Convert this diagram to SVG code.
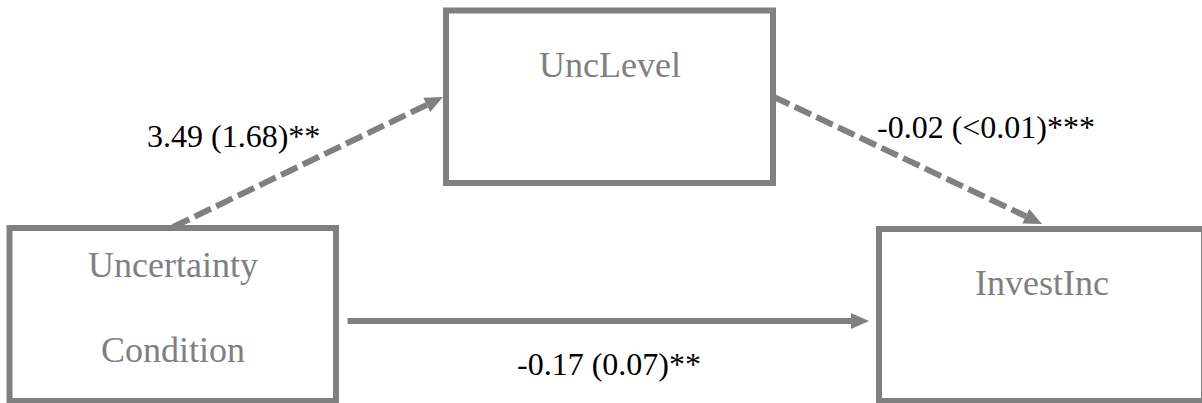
<svg xmlns="http://www.w3.org/2000/svg" width="1202" height="403" viewBox="0 0 1202 403">
  <style>
    .box { fill: #ffffff; stroke: #808080; stroke-width: 6; }
    .node-text { font-family: "Liberation Serif", "Times New Roman", serif; font-size: 36px; fill: #808080; text-anchor: middle; }
    .label { font-family: "Liberation Serif", "Times New Roman", serif; font-size: 32px; fill: #000000; }
    .edge { fill: none; stroke: #808080; stroke-width: 6; }
    .dashed { stroke-dasharray: 18 6; }
  </style>
  <defs>
    <marker id="head" markerUnits="userSpaceOnUse" markerWidth="18" markerHeight="16" refX="0" refY="8" orient="auto" overflow="visible">
      <path d="M0,0 L18,8 L0,16 Z" fill="#808080"/>
    </marker>
  </defs>
  <rect width="1202" height="403" fill="#ffffff"/>

  <g id="node-uncertainty-condition">
    <rect class="box" x="9.5" y="228" width="326.5" height="173"/>
    <text class="node-text" x="173" y="277">Uncertainty</text>
    <text class="node-text" x="173" y="362">Condition</text>
  </g>

  <g id="node-unclevel">
    <rect class="box" x="446" y="10.5" width="327" height="172.5"/>
    <text class="node-text" x="610" y="77">UncLevel</text>
  </g>

  <g id="node-investinc">
    <rect class="box" x="879" y="229" width="325" height="172"/>
    <text class="node-text" x="1042" y="295">InvestInc</text>
  </g>

  <g id="connectors">
    <line class="edge dashed" x1="173" y1="227" x2="426.8" y2="104.9" marker-end="url(#head)"/>
    <line class="edge dashed" x1="773" y1="96.5" x2="1025.8" y2="216.2" marker-end="url(#head)"/>
    <line class="edge" x1="347.5" y1="321" x2="851" y2="321" marker-end="url(#head)"/>
  </g>

  <g id="labels">
    <text class="label" x="147" y="147">3.49 (1.68)**</text>
    <text class="label" x="877" y="138">-0.02 (&lt;0.01)***</text>
    <text class="label" x="517" y="375">-0.17 (0.07)**</text>
  </g>
</svg>
